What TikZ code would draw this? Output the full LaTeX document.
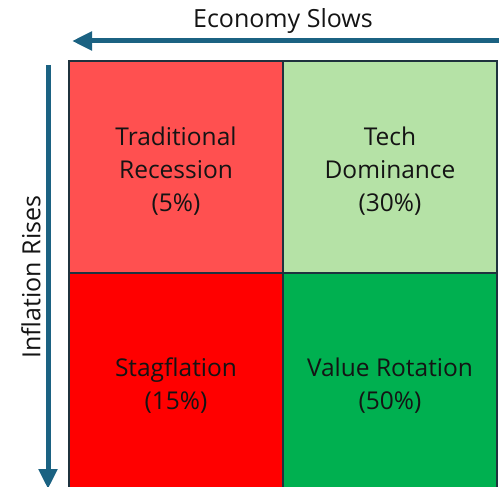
\documentclass[tikz,border=0pt]{standalone}
\usepackage{fontspec}
\setmainfont{Open Sans}
\usetikzlibrary{arrows.meta}
\definecolor{arrowblue}{RGB}{27,98,130}
\definecolor{gridline}{RGB}{31,50,62}
\definecolor{lightred}{RGB}{255,80,80}
\definecolor{lightgreen}{RGB}{181,226,166}
\definecolor{fullred}{RGB}{255,0,0}
\definecolor{fullgreen}{RGB}{0,176,80}
\definecolor{textgray}{RGB}{20,20,20}
\tikzset{
  cell/.style={draw=gridline,line width=2.5pt,minimum width=214pt,inner sep=0pt},
  celltext/.style={align=center,text=textgray,font=\fontsize{24.5}{33}\selectfont},
  axis/.style={arrowblue,line width=5pt,-{Triangle[length=20pt,width=18pt]}},
  axislabel/.style={text=textgray,font=\fontsize{25}{28}\selectfont}
}
\begin{document}
\begin{tikzpicture}[x=1pt,y=-1pt]
\useasboundingbox (0,0) rectangle (499,487);
\clip (0,0) rectangle (499,487);
% quadrants
\node[cell,fill=lightred,minimum height=212pt] (tl) at (176,167) {};
\node[cell,fill=lightgreen,minimum height=212pt] (tr) at (390,167) {};
\node[cell,fill=fullred,minimum height=240pt] (bl) at (176,393) {};
\node[cell,fill=fullgreen,minimum height=240pt] (br) at (390,393) {};
\node[celltext] (tl text) at (176,171) {Traditional\\Recession\\(5\%)};
\node[celltext] (tr text) at (390,171) {Tech\\Dominance\\(30\%)};
\node[celltext] (bl text) at (176,385.5) {Stagflation\\(15\%)};
\node[celltext] (br text) at (390,385.5) {Value Rotation\\(50\%)};
% axes
\coordinate (econ start) at (510,41);
\coordinate (econ end) at (72,41);
\draw[axis] (econ start) -- (econ end);
\node[axislabel] (econ) at (283,21.5) {Economy Slows};
\coordinate (infl start) at (48,65);
\coordinate (infl end) at (48,489);
\draw[axis] (infl start) -- (infl end);
\node[axislabel,rotate=90] (infl) at (31,277) {Inflation Rises};
\end{tikzpicture}
\end{document}
